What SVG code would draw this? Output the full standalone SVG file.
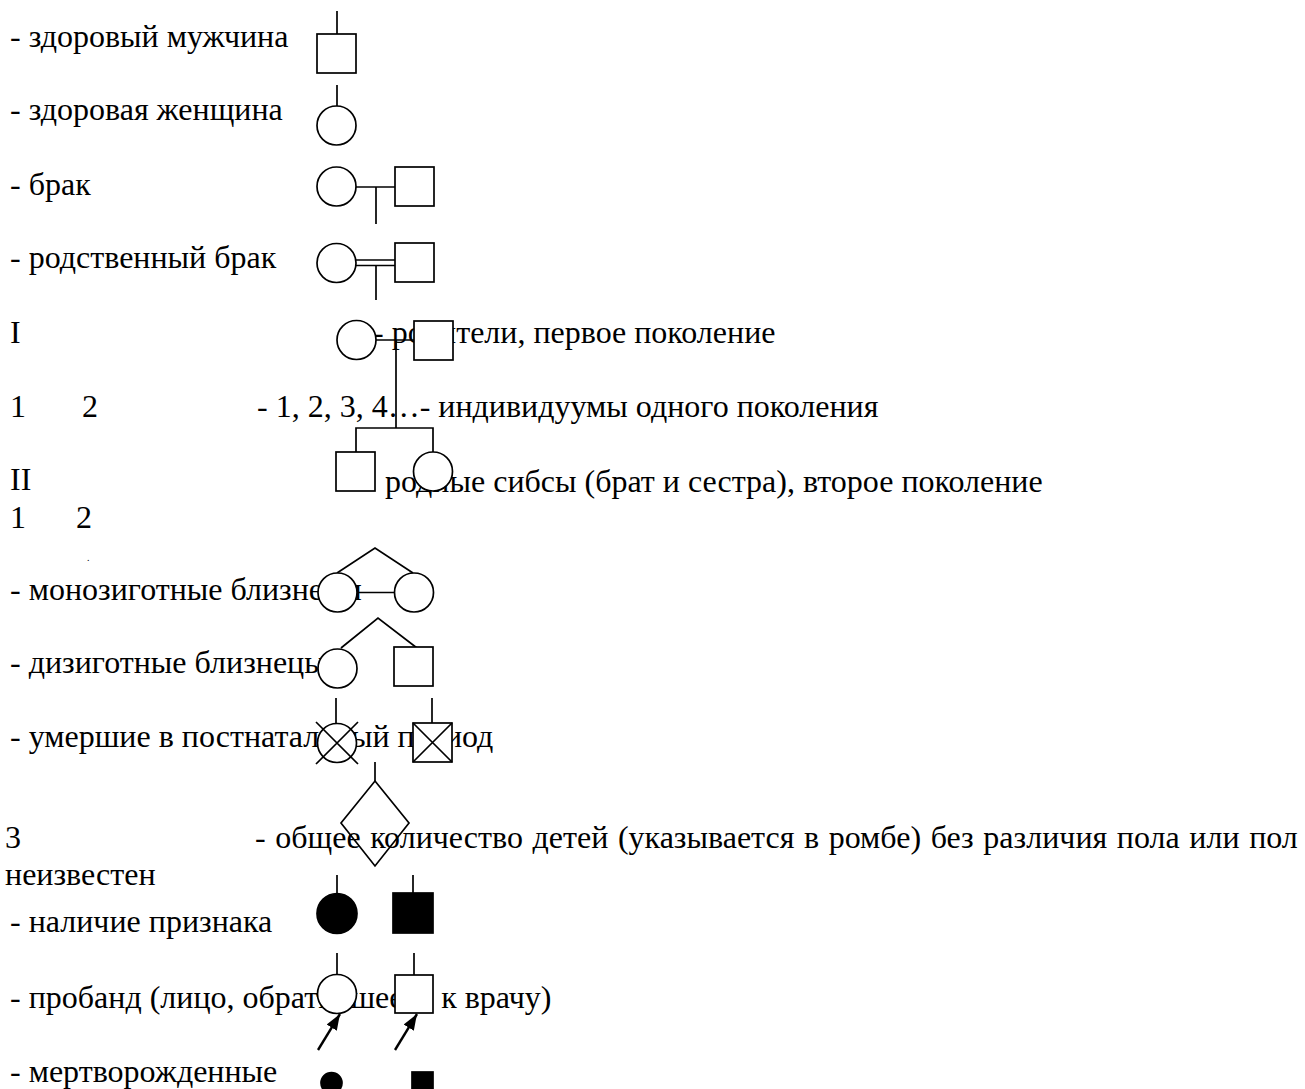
<svg xmlns="http://www.w3.org/2000/svg" width="1305" height="1089" viewBox="0 0 1305 1089">
<style>
text{font-family:"Liberation Serif","Times New Roman",serif;font-size:32px;fill:#000}
.s{fill:#fff;stroke:#000;stroke-width:1.7}
.f{fill:#000;stroke:#000;stroke-width:1.7}
.l{fill:none;stroke:#000;stroke-width:1.7}
.a{fill:none;stroke:#000;stroke-width:2.4}
</style>
<defs>
<marker id="ah" viewBox="0 0 16 12" refX="16" refY="6" markerWidth="16" markerHeight="12" orient="auto" markerUnits="userSpaceOnUse">
<path d="M0,0 L16,6 L0,12 z" fill="#000"/>
</marker>
</defs>
<g id="labels">
<text x="10" y="47">- здоровый мужчина</text>
<text x="10" y="120">- здоровая женщина</text>
<text x="10" y="195">- брак</text>
<text x="10" y="268">- родственный брак</text>
<text x="10" y="343">I</text>
<text x="373" y="343">- родители, первое поколение</text>
<text x="10" y="417">1</text>
<text x="82" y="417">2</text>
<text x="257" y="417">- 1, 2, 3, 4…- индивидуумы одного поколения</text>
<text x="10" y="490">II</text>
<text x="385" y="492">родные сибсы (брат и сестра), второе поколение</text>
<text x="10" y="528">1</text>
<text x="76" y="528">2</text>
<text x="87" y="561" style="font-size:10px">.</text>
<text x="10" y="600">- монозиготные близнецы</text>
<text x="10" y="673">- дизиготные близнецы</text>
<text x="10" y="747">- умершие в постнатальный период</text>
<text x="5" y="848">3</text>
<text x="255" y="848" style="word-spacing:1.6px">- общее количество детей (указывается в ромбе) без различия пола или пол</text>
<text x="5" y="885">неизвестен</text>
<text x="10" y="932">- наличие признака</text>
<text x="10" y="1008">- пробанд (лицо, обратившееся к врачу)</text>
<text x="10" y="1082">- мертворожденные</text>
</g>
<g id="connectors">
<line class="l" x1="337" y1="11" x2="337" y2="34"/>
<line class="l" x1="337" y1="85" x2="337" y2="106"/>
<line class="l" x1="356" y1="187" x2="395" y2="187"/>
<line class="l" x1="376" y1="187" x2="376" y2="224"/>
<line class="l" x1="356" y1="260" x2="395" y2="260"/>
<line class="l" x1="356" y1="265.5" x2="395" y2="265.5"/>
<line class="l" x1="376" y1="265.5" x2="376" y2="300"/>
<line class="l" x1="375" y1="340" x2="414" y2="340"/>
<line class="l" x1="396" y1="340" x2="396" y2="428"/>
<polyline class="l" points="356,452 356,428 433,428 433,452"/>
<polyline class="l" points="337,573 375,548 413,573"/>
<line class="l" x1="357" y1="592.5" x2="395" y2="592.5"/>
<polyline class="l" points="341,648 378,618 417,648"/>
<line class="l" x1="336" y1="698" x2="336" y2="723"/>
<line class="l" x1="432" y1="698" x2="432" y2="723"/>
<line class="l" x1="375" y1="762" x2="375" y2="781"/>
<line class="l" x1="337" y1="875" x2="337" y2="893"/>
<line class="l" x1="413" y1="875" x2="413" y2="893"/>
<line class="l" x1="337" y1="953" x2="337" y2="975"/>
<line class="l" x1="414" y1="953" x2="414" y2="975"/>
<line class="a" x1="318" y1="1050" x2="340" y2="1014" marker-end="url(#ah)"/>
<line class="a" x1="395" y1="1050" x2="417" y2="1014" marker-end="url(#ah)"/>
</g>
<g id="male"><rect class="s" x="317" y="34" width="39" height="39"/></g>
<g id="female"><circle class="s" cx="336.5" cy="125.5" r="19.5"/></g>
<g id="marriage-f"><circle class="s" cx="336.5" cy="186.5" r="19.5"/></g>
<g id="marriage-m"><rect class="s" x="395" y="167" width="39" height="39"/></g>
<g id="consang-f"><circle class="s" cx="336.5" cy="263" r="19.5"/></g>
<g id="consang-m"><rect class="s" x="395" y="243" width="39" height="39"/></g>
<g id="gen1-f"><circle class="s" cx="356.5" cy="340" r="19.5"/></g>
<g id="gen1-m"><rect class="s" x="414" y="321" width="39" height="39"/></g>
<g id="gen2-m"><rect class="s" x="336" y="452" width="39" height="39"/></g>
<g id="gen2-f"><circle class="s" cx="433" cy="471.5" r="19.5"/></g>
<g id="mz-1"><circle class="s" cx="337.5" cy="592.5" r="19.5"/></g>
<g id="mz-2"><circle class="s" cx="414" cy="592.5" r="19.5"/></g>
<g id="dz-f"><circle class="s" cx="337.5" cy="668.5" r="19.5"/></g>
<g id="dz-m"><rect class="s" x="394" y="647" width="39" height="39"/></g>
<g id="dead-f"><circle class="s" cx="337" cy="743" r="19.5"/><path class="l" d="M316,722 L358,764 M358,722 L316,764"/></g>
<g id="dead-m"><rect class="s" x="413" y="723" width="39" height="39"/><path class="l" d="M413,723 L452,762 M452,723 L413,762"/></g>
<g id="diamond"><polygon class="l" points="375,781 409,823 375,866 341,823"/></g>
<g id="affected-f"><circle class="f" cx="337" cy="913.5" r="20"/></g>
<g id="affected-m"><rect class="f" x="393" y="893" width="40" height="40"/></g>
<g id="proband-f"><circle class="s" cx="337" cy="994" r="19.5"/></g>
<g id="proband-m"><rect class="s" x="395" y="975" width="38" height="38"/></g>
<g id="stillborn-f"><circle class="f" cx="331.5" cy="1083" r="10.5"/></g>
<g id="stillborn-m"><rect class="f" x="412" y="1072" width="21" height="21"/></g>
</svg>
